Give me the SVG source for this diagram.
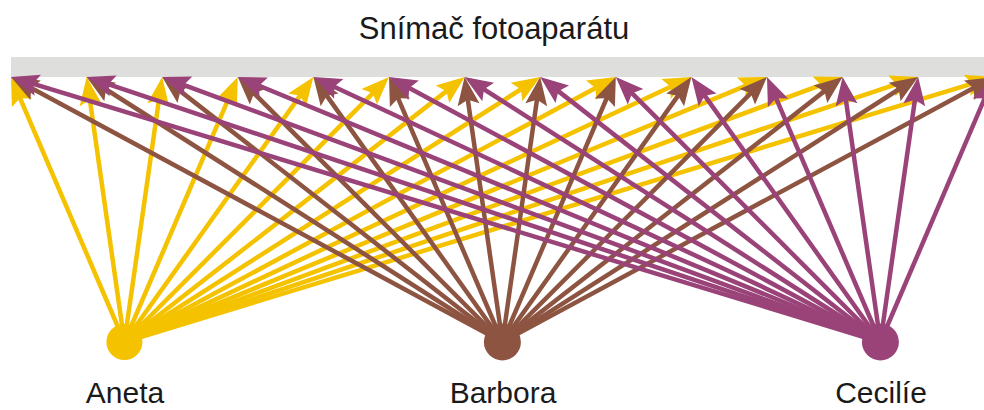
<svg xmlns="http://www.w3.org/2000/svg" width="984" height="410" viewBox="0 0 984 410">
<style>
.t{font-family:"Liberation Sans",Arial,sans-serif;font-size:30px;fill:#1a1a1a;text-anchor:middle}
.y{stroke:#F5C200;stroke-width:4.5;fill:none;marker-end:url(#my)}
.b{stroke:#8E5442;stroke-width:4.5;fill:none;marker-end:url(#mb)}
.p{stroke:#9A4379;stroke-width:4.5;fill:none;marker-end:url(#mp)}
</style>
<defs>
<marker id="my" markerUnits="userSpaceOnUse" markerWidth="28" markerHeight="22" refX="14" refY="11" orient="auto" overflow="visible"><path d="M0,0 L28,11 L0,22 L5,11 z" fill="#F5C200"/></marker>
<marker id="mb" markerUnits="userSpaceOnUse" markerWidth="28" markerHeight="22" refX="14" refY="11" orient="auto" overflow="visible"><path d="M0,0 L28,11 L0,22 L5,11 z" fill="#8E5442"/></marker>
<marker id="mp" markerUnits="userSpaceOnUse" markerWidth="28" markerHeight="22" refX="14" refY="11" orient="auto" overflow="visible"><path d="M0,0 L28,11 L0,22 L5,11 z" fill="#9A4379"/></marker>
</defs>
<g id="sensor">
<rect x="11" y="57" width="990" height="20" fill="#DEDEDC"/>
<text class="t" x="494" y="39" style="font-size:31px">Snímač fotoaparátu</text>
</g>
<g id="connectors">
<g id="rays-aneta">
<line class="y" x1="124.4" y1="342" x2="16.51" y2="89.87"/>
<line class="y" x1="124.4" y1="342" x2="88.58" y2="90.86"/>
<line class="y" x1="124.4" y1="342" x2="160.22" y2="90.86"/>
<line class="y" x1="124.4" y1="342" x2="232.29" y2="89.87"/>
<line class="y" x1="124.4" y1="342" x2="305.27" y2="88.40"/>
<line class="y" x1="124.4" y1="342" x2="379.11" y2="86.91"/>
<line class="y" x1="124.4" y1="342" x2="453.56" y2="85.60"/>
<line class="y" x1="124.4" y1="342" x2="528.39" y2="84.52"/>
<line class="y" x1="124.4" y1="342" x2="603.48" y2="83.65"/>
<line class="y" x1="124.4" y1="342" x2="678.72" y2="82.93"/>
<line class="y" x1="124.4" y1="342" x2="754.06" y2="82.34"/>
<line class="y" x1="124.4" y1="342" x2="829.47" y2="81.85"/>
<line class="y" x1="124.4" y1="342" x2="904.92" y2="81.43"/>
<line class="y" x1="124.4" y1="342" x2="980.41" y2="81.08"/>
</g>
<g id="rays-barbora">
<line class="b" x1="502.4" y1="342" x2="23.32" y2="83.65"/>
<line class="b" x1="502.4" y1="342" x2="98.41" y2="84.52"/>
<line class="b" x1="502.4" y1="342" x2="173.24" y2="85.60"/>
<line class="b" x1="502.4" y1="342" x2="247.69" y2="86.91"/>
<line class="b" x1="502.4" y1="342" x2="321.53" y2="88.40"/>
<line class="b" x1="502.4" y1="342" x2="394.51" y2="89.87"/>
<line class="b" x1="502.4" y1="342" x2="466.58" y2="90.86"/>
<line class="b" x1="502.4" y1="342" x2="538.22" y2="90.86"/>
<line class="b" x1="502.4" y1="342" x2="610.29" y2="89.87"/>
<line class="b" x1="502.4" y1="342" x2="683.27" y2="88.40"/>
<line class="b" x1="502.4" y1="342" x2="757.11" y2="86.91"/>
<line class="b" x1="502.4" y1="342" x2="831.56" y2="85.60"/>
<line class="b" x1="502.4" y1="342" x2="906.39" y2="84.52"/>
<line class="b" x1="502.4" y1="342" x2="981.48" y2="83.65"/>
</g>
<g id="rays-cecilie">
<line class="p" x1="880.4" y1="342" x2="24.39" y2="81.08"/>
<line class="p" x1="880.4" y1="342" x2="99.88" y2="81.43"/>
<line class="p" x1="880.4" y1="342" x2="175.33" y2="81.85"/>
<line class="p" x1="880.4" y1="342" x2="250.74" y2="82.34"/>
<line class="p" x1="880.4" y1="342" x2="326.08" y2="82.93"/>
<line class="p" x1="880.4" y1="342" x2="401.32" y2="83.65"/>
<line class="p" x1="880.4" y1="342" x2="476.41" y2="84.52"/>
<line class="p" x1="880.4" y1="342" x2="551.24" y2="85.60"/>
<line class="p" x1="880.4" y1="342" x2="625.69" y2="86.91"/>
<line class="p" x1="880.4" y1="342" x2="699.53" y2="88.40"/>
<line class="p" x1="880.4" y1="342" x2="772.51" y2="89.87"/>
<line class="p" x1="880.4" y1="342" x2="844.58" y2="90.86"/>
<line class="p" x1="880.4" y1="342" x2="916.22" y2="90.86"/>
<line class="p" x1="880.4" y1="342" x2="988.29" y2="89.87"/>
</g>
</g>
<g id="aneta">
<circle cx="124.4" cy="342" r="18" fill="#F5C200"/>
<text class="t" x="125" y="403">Aneta</text>
</g>
<g id="barbora">
<circle cx="502.4" cy="342" r="18.5" fill="#8E5442"/>
<text class="t" x="503" y="403">Barbora</text>
</g>
<g id="cecilie">
<circle cx="880.4" cy="342" r="18.5" fill="#9A4379"/>
<text class="t" x="881" y="403">Cecilíe</text>
</g>
</svg>
